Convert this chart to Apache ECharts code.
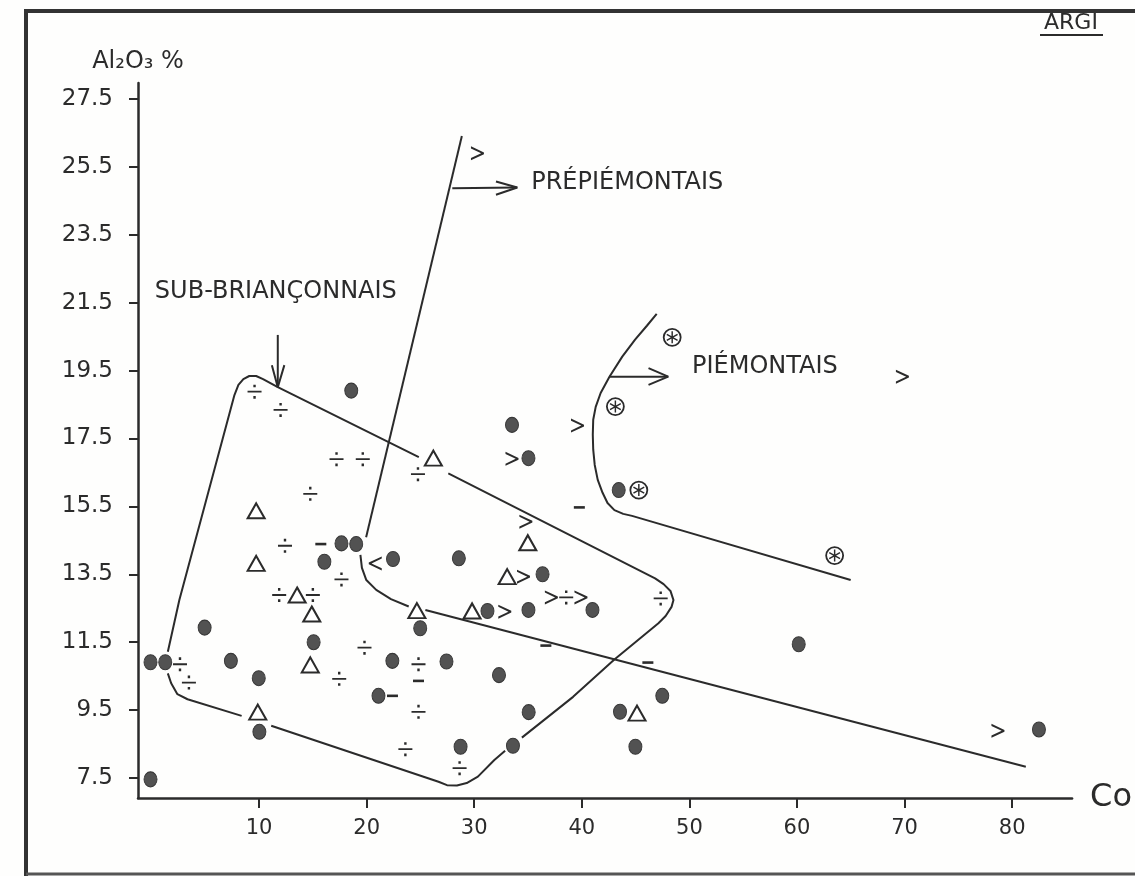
<!DOCTYPE html>
<html>
<head>
<meta charset="utf-8">
<script src="https://cdn.jsdelivr.net/npm/echarts@6/dist/echarts.min.js"></script>
<style>
html,body{margin:0;padding:0;background:#fefefd;}
#c{width:1135px;height:876px;}
</style>
</head>
<body>
<div id="c"></div>
<script>
// ---------- DATA ----------
const xTicks = [10, 20, 30, 40, 50, 60, 70, 80];
const yTicks = [7.5, 9.5, 11.5, 13.5, 15.5, 17.5, 19.5, 21.5, 23.5, 25.5, 27.5];

// filled dots
const dots = [
  [18.57,18.91],[33.51,17.9],[35.04,16.92],[43.43,15.98],[17.66,14.41],[19.03,14.39],
  [16.07,13.87],[22.45,13.95],[28.57,13.97],[36.35,13.5],[31.23,12.42],[35.04,12.45],
  [40.99,12.45],[24.98,11.91],[4.94,11.93],[15.07,11.5],[-0.09,10.91],[1.28,10.91],
  [7.38,10.95],[9.97,10.44],[22.39,10.95],[27.42,10.93],[32.3,10.53],[21.1,9.92],
  [10.03,8.86],[28.73,8.42],[33.6,8.45],[-0.09,7.46],[60.16,11.44],[47.48,9.92],
  [43.55,9.45],[44.98,8.42],[82.49,8.93],[35.06,9.44]
];
// open triangles
const triangles = [
  [26.2,16.92],[9.73,15.37],[34.98,14.43],[9.73,13.82],[33.06,13.43],[13.54,12.89],
  [14.9,12.33],[24.67,12.43],[29.8,12.42],[14.76,10.83],[9.88,9.44],[45.13,9.41]
];
// division signs
const divides = [
  [9.58,18.88],[12.0,18.34],[17.2,16.89],[19.64,16.89],[24.77,16.45],[14.76,15.87],
  [12.41,14.34],[17.66,13.35],[11.87,12.89],[15.0,12.89],[38.55,12.82],[47.33,12.79],
  [2.65,10.85],[3.48,10.31],[19.8,11.34],[17.45,10.42],[24.82,10.85],[24.82,9.45],
  [23.6,8.35],[28.64,7.79]
];
// greater-than signs
const greaters = [
  [30.3,25.9],[69.8,19.32],[39.6,17.88],[33.51,16.9],[34.8,15.05],[34.58,13.43],
  [37.17,12.82],[39.92,12.82],[32.84,12.4],[78.68,8.89]
];
// less-than signs
const lessers = [[20.8,13.82]];
// dashes
const dashes = [[39.77,15.47],[15.74,14.39],[36.66,11.4],[46.14,10.9],[24.82,10.36],[22.4,9.92]];
// circled asterisks
const starred = [[48.4,20.48],[43.12,18.44],[45.3,15.98],[63.5,14.05]];

// boundary lines
const prepiemUpper = [[28.85,26.41],[19.95,14.59]];
const prepiemCurve = [[19.42,14.07],[19.56,13.69],[19.97,13.33],[20.89,13.04],[22.26,12.77],[23.91,12.55]];
const prepiemLower = [[25.46,12.45],[81.27,7.83]];
const piemontais = [
  [46.96,21.17],[46.05,20.82],[44.95,20.41],[43.76,19.91],[42.57,19.32],[41.75,18.84],
  [41.29,18.43],[41.06,18.05],[41.02,17.61],[41.06,17.17],[41.2,16.72],[41.48,16.28],
  [41.93,15.9],[42.39,15.6],[43.03,15.39],[43.85,15.28],[44.67,15.22],[64.99,13.33]
];
const subBrA = [
  [1.52,11.22],[2.59,12.74],[7.71,18.78],[8.08,19.08],[8.54,19.25],[9.09,19.34],
  [9.73,19.34],[10.37,19.25],[11.74,19.01],[24.85,16.95]
];
const subBrB = [
  [27.59,16.47],[46.81,13.38],[47.6,13.21],[48.24,13.01],[48.52,12.74],[48.34,12.54],
  [47.79,12.27],[47.12,12.06],[43.0,10.98],[39.19,9.89],[34.43,8.69]
];
const subBrC = [
  [32.87,8.3],[31.87,8.03],[30.34,7.54],[29.3,7.35],[28.39,7.28],[27.47,7.29],
  [26.68,7.39],[11.13,9.04]
];
const subBrD = [[8.38,9.33],[3.35,9.82],[2.41,9.97],[1.83,10.29],[1.52,10.58]];

// arrows (shaft + head)
const arrowSub = [[11.74,20.55],[11.74,19.01]];
const arrowSubHead = [[11.19,19.66],[11.74,19.01],[12.35,19.66]];
const arrowPre = [[27.96,24.87],[34.0,24.89]];
const arrowPreHead = [[32.02,25.07],[34.0,24.89],[32.02,24.68]];
const arrowPie = [[42.54,19.32],[48.03,19.32]];
const arrowPieHead = [[46.2,19.57],[48.03,19.32],[46.2,19.08]];

// text annotations
const noteNames = ['PRÉPIÉMONTAIS', 'PIÉMONTAIS', 'SUB-BRIANÇONNAIS'];
const noteX = [44.22, 57.02, 11.56];
const noteY = [25.03, 19.61, 21.82];

// ---------- CHART ----------
const INK = '#2b2b2b';
const FONT = 'DejaVu Sans';
const chart = echarts.init(document.getElementById('c'), null, {renderer: 'canvas'});

function lineSeries(data) {
  return {
    type: 'line', data: data, symbol: 'none', silent: true, clip: false,
    lineStyle: {color: INK, width: 2, opacity: 1}, z: 2, animation: false
  };
}
function scatter(data, symbol, size, style) {
  return {
    type: 'scatter', data: data, symbol: symbol, symbolSize: size, clip: false,
    itemStyle: Object.assign({opacity: 1}, style), z: 5, silent: true, animation: false
  };
}

const divPath = 'path://M0,6.2 L14,6.2 L14,8 L0,8 Z M5.8,0.2 L8.2,0.2 L8.2,2.8 L5.8,2.8 Z M5.8,11.4 L8.2,11.4 L8.2,14 L5.8,14 Z';
const gtPath = 'path://M0,0 L13,6.1 L13,7.9 L0,14 L0,11.8 L10.2,7 L0,2.2 Z';
const ltPath = 'path://M13,0 L0,6.1 L0,7.9 L13,14 L13,11.8 L2.8,7 L13,2.2 Z';
const astPath = 'path://M5.3,0 L6.7,0 L6.7,12 L5.3,12 Z M1.154,2.394 L11.546,8.394 L10.846,9.606 L0.454,3.606 Z M10.846,2.394 L11.546,3.606 L1.154,9.606 L0.454,8.394 Z';

const series = [
  lineSeries(prepiemUpper), lineSeries(prepiemCurve), lineSeries(prepiemLower),
  lineSeries(piemontais),
  lineSeries(subBrA), lineSeries(subBrB), lineSeries(subBrC), lineSeries(subBrD),
  lineSeries(arrowSub), lineSeries(arrowSubHead),
  lineSeries(arrowPre), lineSeries(arrowPreHead),
  lineSeries(arrowPie), lineSeries(arrowPieHead),
  scatter(dots, 'circle', [13, 15], {color: '#525252', borderColor: '#383838', borderWidth: 1}),
  scatter(triangles, 'triangle', [17, 15], {color: '#ffffff', borderColor: INK, borderWidth: 2}),
  scatter(divides, divPath, [14, 14], {color: INK}),
  scatter(greaters, gtPath, [13, 14], {color: INK}),
  scatter(lessers, ltPath, [13, 14], {color: INK}),
  scatter(dashes, 'rect', [11, 2.6], {color: INK}),
  scatter(starred, 'circle', 17, {color: '#ffffff', borderColor: INK, borderWidth: 1.8}),
  scatter(starred, astPath, [11.5, 12], {color: INK}),
  {
    type: 'scatter', symbolSize: 0, clip: false, silent: true, animation: false, z: 6,
    itemStyle: {opacity: 1},
    data: noteNames.map((n, i) => ({name: n, value: [noteX[i], noteY[i]]})),
    label: {
      show: true, position: 'inside', formatter: p => p.name, opacity: 1,
      color: INK, fontFamily: FONT, fontSize: 24, textBorderWidth: 0
    }
  }
];

chart.setOption({
  backgroundColor: '#fefefd',
  animation: false,
  title: {
    text: 'ARGI', left: 1039, top: 7,
    textStyle: {color: INK, fontFamily: FONT, fontSize: 22, fontWeight: 'normal'}
  },
  grid: {left: 138, right: 48, top: 83, bottom: 78, containLabel: false},
  xAxis: {
    type: 'value', min: -1.253, max: 85.57,
    name: 'Co', nameLocation: 'end', nameGap: 18,
    nameTextStyle: {color: INK, fontFamily: FONT, fontSize: 32, verticalAlign: 'middle', padding: [0, 0, 28, 0]},
    axisLine: {show: true, onZero: false, lineStyle: {color: INK, width: 2.5}},
    axisTick: {show: true, customValues: xTicks, length: 10, inside: false, lineStyle: {color: INK, width: 2}},
    axisLabel: {customValues: xTicks, margin: 20, color: INK, fontFamily: FONT, fontSize: 21},
    splitLine: {show: false}
  },
  yAxis: {
    type: 'value', min: 6.911, max: 27.97,
    name: 'Al₂O₃ %', nameLocation: 'end', nameGap: 9,
    nameTextStyle: {color: INK, fontFamily: FONT, fontSize: 24, align: 'center'},
    axisLine: {show: true, onZero: false, lineStyle: {color: INK, width: 2.5}},
    axisTick: {show: true, customValues: yTicks, length: 9, inside: false, lineStyle: {color: INK, width: 2}},
    axisLabel: {customValues: yTicks, margin: 25, color: INK, fontFamily: FONT, fontSize: 23,
      formatter: v => v.toFixed(1)},
    splitLine: {show: false}
  },
  graphic: [
    {type: 'line', shape: {x1: 24, y1: 11, x2: 1135, y2: 11}, style: {stroke: '#333', lineWidth: 4}},
    {type: 'line', shape: {x1: 26, y1: 9, x2: 26, y2: 876}, style: {stroke: '#333', lineWidth: 4}},
    {type: 'line', shape: {x1: 26, y1: 874, x2: 1135, y2: 874}, style: {stroke: '#555', lineWidth: 3}},
    {type: 'line', shape: {x1: 1040, y1: 35, x2: 1103, y2: 35}, style: {stroke: INK, lineWidth: 2}}
  ],
  series: series
});
</script>
</body>
</html>
